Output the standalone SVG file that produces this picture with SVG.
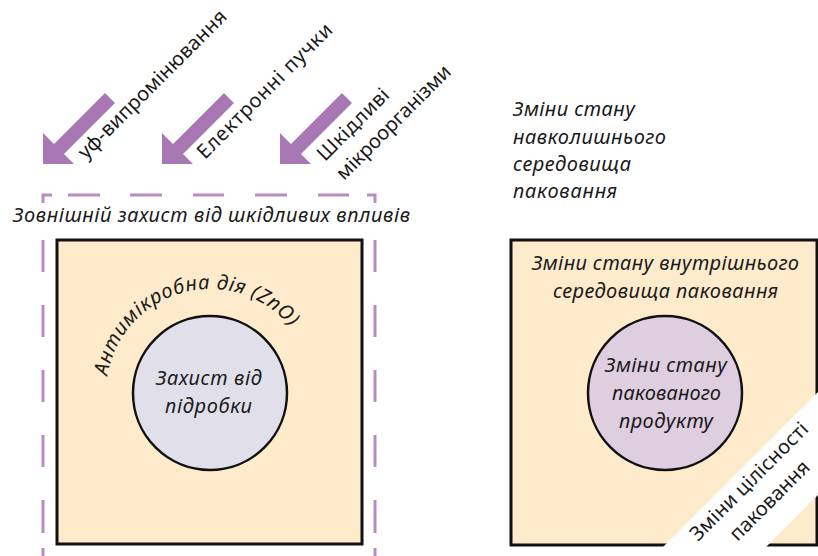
<svg xmlns="http://www.w3.org/2000/svg" xmlns:xlink="http://www.w3.org/1999/xlink" width="818" height="556" viewBox="0 0 818 556">
<style>
.it{font-family:"Noto Sans","Open Sans",sans-serif;font-style:italic;font-size:20px;fill:#1a1a1a}
.up{font-family:"Noto Sans","Open Sans",sans-serif;font-size:20px;fill:#1a1a1a}
.box{fill:#feebcc;stroke:#111;stroke-width:3}
.arr{fill:#a878b4}
.dash{fill:none;stroke:#b88bc3;stroke-width:3}
</style>
<defs>
<polygon id="arrow" points="0,-31 0,0 31,0 21,-10 72,-61 62,-71 11,-20"/>
<path id="arc" d="M106,393 A104,104 0 0 1 314,393"/>
</defs>
<rect width="818" height="556" fill="#fff"/>

<g id="arrows">
<use xlink:href="#arrow" class="arr" x="43" y="164"/>
<use xlink:href="#arrow" class="arr" x="162" y="164"/>
<use xlink:href="#arrow" class="arr" x="280" y="164"/>
</g>

<g id="arrow-labels">
<text class="up" transform="translate(86,160) rotate(-45)" textLength="201" lengthAdjust="spacing">уф-випромінювання</text>
<text class="up" transform="translate(205,160) rotate(-45)" textLength="182" lengthAdjust="spacing">Електронні пучки</text>
<text class="up" transform="translate(325,162) rotate(-45)" textLength="93" lengthAdjust="spacing">Шкідливі</text>
<text class="up" transform="translate(325,162) rotate(-45) translate(0,27)" textLength="153" lengthAdjust="spacing">мікроорганізми</text>
</g>

<g id="outer-protection">
<path class="dash" d="M43,203 V195 H52 M68,195 H100 M130,195 H162 M193,195 H224 M255,195 H287 M318,195 H349 M367,195 H375 V203 M43,240 V272 M43,305 V337 M43,370 V402 M43,435 V467 M43,500 V533 M43,548 V556 M375,240 V272 M375,305 V337 M375,370 V402 M375,435 V467 M375,500 V533 M375,548 V556"/>
<text class="it" x="13" y="222" textLength="397" lengthAdjust="spacing">Зовнішній захист від шкідливих впливів</text>
</g>

<g id="left-package">
<rect class="box" x="57" y="240" width="305" height="304"/>
<text class="it"><textPath xlink:href="#arc" startOffset="17" textLength="238" lengthAdjust="spacing">Антимікробна дія (ZnO)</textPath></text>
</g>

<g id="left-product">
<circle cx="210" cy="393" r="77" fill="#e1e0ea" stroke="#111" stroke-width="2.5"/>
<text class="it" x="156" y="385" textLength="106" lengthAdjust="spacing">Захист від</text>
<text class="it" x="165" y="413" textLength="87" lengthAdjust="spacing">підробки</text>
</g>

<g id="environment">
<text class="it" x="513" y="116" textLength="122" lengthAdjust="spacing">Зміни стану</text>
<text class="it" x="513" y="144" textLength="153" lengthAdjust="spacing">навколишнього</text>
<text class="it" x="513" y="171" textLength="118" lengthAdjust="spacing">середовища</text>
<text class="it" x="513" y="198" textLength="104" lengthAdjust="spacing">паковання</text>
</g>

<g id="right-package">
<rect class="box" x="511" y="240" width="306" height="305"/>
<text class="it" x="532" y="270" textLength="267" lengthAdjust="spacing">Зміни стану внутрішнього</text>
<text class="it" x="553" y="298" textLength="225" lengthAdjust="spacing">середовища паковання</text>
</g>

<g id="right-product">
<circle cx="665" cy="393" r="77" fill="#dfcee0" stroke="#111" stroke-width="2.5"/>
<text class="it" x="605" y="372" textLength="122" lengthAdjust="spacing">Зміни стану</text>
<text class="it" x="612" y="400" textLength="109" lengthAdjust="spacing">пакованого</text>
<text class="it" x="619" y="428" textLength="94" lengthAdjust="spacing">продукту</text>
</g>

<g id="integrity-band">
<polygon points="659,551 820,390 820,493 762,551" fill="#fff"/>
<text class="up" transform="translate(698,542) rotate(-45)" textLength="158" lengthAdjust="spacing">Зміни цілісності</text>
<text class="up" transform="translate(698,542) rotate(-45) translate(28,28)" textLength="104" lengthAdjust="spacing">паковання</text>
</g>
</svg>
